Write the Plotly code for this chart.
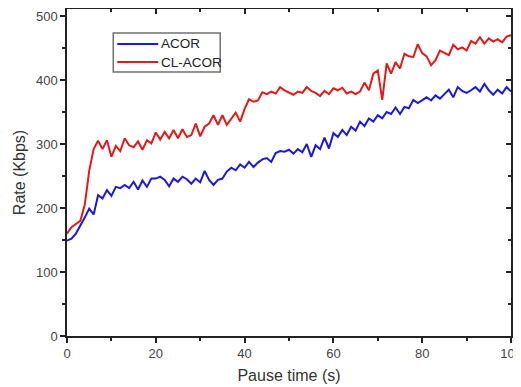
import plotly.graph_objects as go

pause_time = list(range(0, 101))

acor = [149, 152, 160, 172, 185, 199, 190, 220, 215, 228,
        219, 233, 231, 236, 231, 241, 229, 243, 233, 246,
        246, 249, 244, 234, 246, 241, 249, 245, 238, 246,
        240, 258, 244, 236, 244, 246, 257, 263, 259, 268,
        263, 272, 264, 271, 276, 278, 272, 286, 289, 288,
        291, 285, 292, 287, 300, 280, 298, 292, 310, 293,
        317, 311, 322, 314, 327, 321, 335, 328, 340, 335,
        345, 340, 350, 347, 357, 347, 358, 356, 369, 364,
        369, 373, 368, 376, 371, 378, 385, 373, 389, 383,
        380, 384, 389, 382, 394, 384, 377, 385, 379, 389,
        382]

cl_acor = [160, 170, 175, 180, 205, 258, 292, 305, 292, 306,
           280, 297, 289, 309, 298, 295, 304, 291, 306, 301,
           318, 307, 319, 309, 322, 309, 323, 311, 314, 332,
           312, 327, 332, 345, 330, 345, 330, 340, 349, 335,
           355, 370, 366, 368, 381, 378, 382, 379, 389, 384,
           380, 377, 382, 380, 389, 383, 380, 375, 383, 378,
           387, 384, 388, 379, 382, 378, 382, 396, 384, 410,
           415, 369, 426, 410, 428, 418, 441, 437, 436, 456,
           442, 437, 423, 431, 446, 443, 439, 455, 448, 451,
           446, 461, 457, 467, 457, 465, 460, 464, 459, 468,
           470]

series_names = ["ACOR", "CL-ACOR"]
series_colors = ["#1a1adf", "#e21a1a"]

x_ticks = [0, 20, 40, 60, 80, 100]
y_ticks = [0, 100, 200, 300, 400, 500]

FONT = "Arial, Liberation Sans, sans-serif"

fig = go.Figure()
for name, vals, col in zip(series_names, [acor, cl_acor], series_colors):
    fig.add_trace(go.Scatter(x=pause_time, y=vals, mode="lines", name=name,
                             line=dict(color=col, width=2)))
# invisible trace to activate mirrored axes
fig.add_trace(go.Scatter(x=[0], y=[0], xaxis="x2", yaxis="y2", mode="markers",
                         marker=dict(opacity=0), showlegend=False, hoverinfo="skip"))

# legend drawn as a boxed key (paper coordinates)
PL, PW, PT, PH = 58.7, 444.3, 1.0, 327.0   # plot area in figure pixels


def px(fx):
    return (fx - PL) / PW


def py(fy):
    return 1 - (fy - PT) / PH


shapes = [dict(type="rect", xref="paper", yref="paper",
               x0=px(105), x1=px(212), y0=py(64), y1=py(25),
               line=dict(color="#707070", width=1.5), fillcolor="rgba(0,0,0,0)",
               layer="above")]
annotations = []
for i, (name, col) in enumerate(zip(series_names, series_colors)):
    fy = 36 + 18 * i
    shapes.append(dict(type="line", xref="paper", yref="paper",
                       x0=px(109), x1=px(150), y0=py(fy), y1=py(fy),
                       line=dict(color=col, width=2), layer="above"))
    annotations.append(dict(xref="paper", yref="paper", x=px(151), y=py(fy),
                            xanchor="left", yanchor="middle", showarrow=False,
                            text=name, font=dict(family=FONT, size=13.5, color="#222")))

axis_common = dict(showgrid=False, zeroline=False, showline=True, automargin=False,
                   linecolor="#222", linewidth=1.5, tickcolor="#222")
tickfont = dict(family=FONT, size=13, color="#444")

fig.update_layout(
    width=513, height=379,
    margin=dict(l=58.7, r=10, t=1, b=51),
    paper_bgcolor="white", plot_bgcolor="white",
    font=dict(family=FONT, color="#333"),
    showlegend=False,
    shapes=shapes, annotations=annotations,
    xaxis=dict(range=[0, 100], tickvals=x_ticks, ticks="outside", ticklen=5, tickwidth=1.5,
               ticklabeloverflow="allow", tickfont=tickfont,
               minor=dict(dtick=10, ticks="outside", ticklen=3, tickcolor="#222", tickwidth=1.5),
               title=dict(text="Pause time (s)", font=dict(family=FONT, size=16, color="#333"),
                          standoff=9),
               **axis_common),
    yaxis=dict(range=[0, 511], tickvals=y_ticks, ticks="outside", ticklen=5, tickwidth=1.5,
               tickfont=tickfont,
               minor=dict(dtick=50, ticks="outside", ticklen=3, tickcolor="#222", tickwidth=1.5),
               title=dict(text="Rate (Kbps)", font=dict(family=FONT, size=16, color="#333"),
                          standoff=6),
               **axis_common),
    xaxis2=dict(range=[0, 100], overlaying="x", side="top", anchor="y", showticklabels=False,
                tickvals=x_ticks, ticks="inside", ticklen=5, tickwidth=1.5,
                minor=dict(dtick=10, ticks="inside", ticklen=3, tickcolor="#222", tickwidth=1.5),
                **axis_common),
    yaxis2=dict(range=[0, 511], overlaying="y", side="right", anchor="x", showticklabels=False,
                tickvals=y_ticks, ticks="inside", ticklen=5, tickwidth=1.5,
                minor=dict(dtick=50, ticks="inside", ticklen=3, tickcolor="#222", tickwidth=1.5),
                **axis_common),
)

fig.write_html("out.html")
